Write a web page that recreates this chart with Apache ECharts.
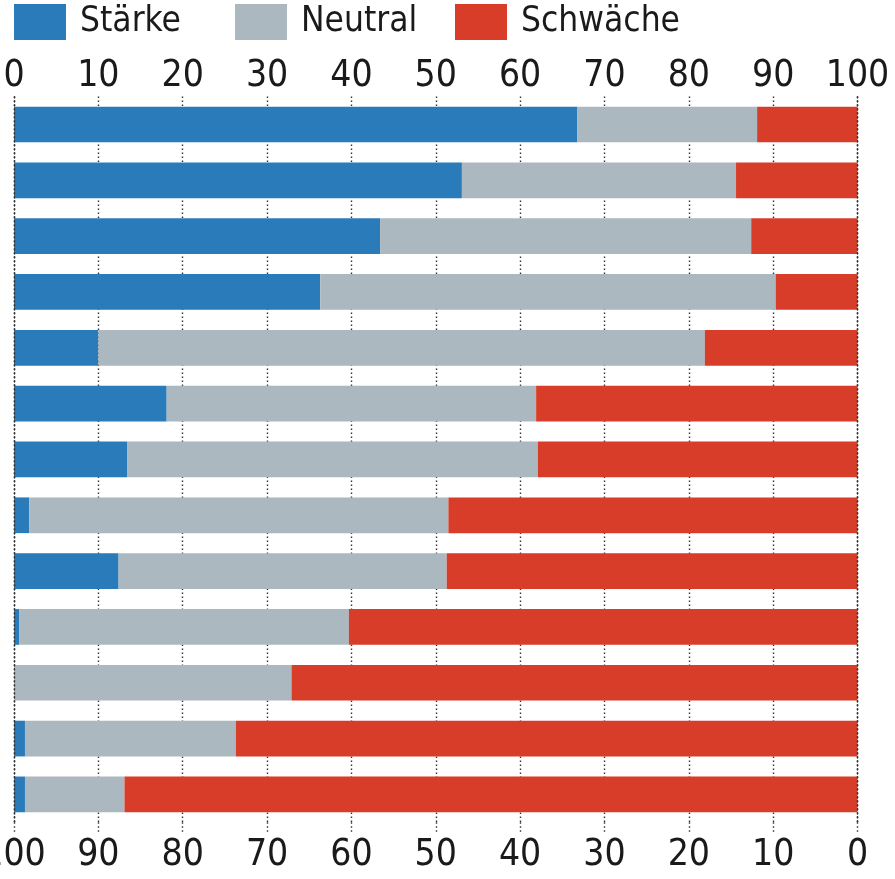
<!DOCTYPE html>
<html>
<head>
<meta charset="utf-8">
<script src="https://cdn.jsdelivr.net/npm/echarts@6/dist/echarts.min.js"></script>
<style>
  html, body { margin: 0; padding: 0; background: #ffffff; }
  #chart { width: 895px; height: 879px; }
</style>
</head>
<body>
<div id="chart"></div>
<script>
// Row identifiers (top to bottom); no labels are drawn for them
const categories = ['1', '2', '3', '4', '5', '6', '7', '8', '9', '10', '11', '12', '13'];

// Share per row in percent
const staerke = [66.8, 53.1, 43.4, 36.3, 10.0, 18.1, 13.4, 1.8, 12.4, 0.6, 0.0, 1.3, 1.3];
const neutral = [21.3, 32.5, 44.0, 54.0, 71.9, 43.8, 48.7, 49.7, 38.9, 39.1, 32.9, 25.0, 11.8];
const schwaeche = [11.9, 14.4, 12.6, 9.7, 18.1, 38.1, 37.9, 48.5, 48.7, 60.3, 67.1, 73.7, 86.9];

const seriesNames = ['Stärke', 'Neutral', 'Schwäche'];
const seriesColors = ['#2a7bb9', '#abb8c0', '#d73d29'];

const FONT = '"DejaVu Sans Condensed", "Liberation Sans Narrow", sans-serif';
const dotted = { color: '#333333', width: 1.4, type: [1.4, 2.6] };

const chart = echarts.init(document.getElementById('chart'), null, { renderer: 'canvas' });

const legendAt = (name, left) => ({
  data: [name],
  left: left,
  top: 4,
  padding: 0,
  icon: 'rect',
  itemWidth: 52,
  itemHeight: 36,
  selectedMode: false,
  textStyle: {
    fontFamily: FONT,
    fontSize: 35,
    lineHeight: 36,
    color: '#1a1a1a',
    padding: [0, 0, 0, 9]
  }
});

const axisLabel = (margin) => ({
  fontFamily: FONT,
  fontSize: 37,
  color: '#1a1a1a',
  margin: margin
});

const option = {
  animation: false,
  backgroundColor: '#ffffff',
  legend: [
    legendAt(seriesNames[0], 14),
    legendAt(seriesNames[1], 235),
    legendAt(seriesNames[2], 455)
  ],
  grid: {
    left: 14, right: 37.5, top: 96.6, bottom: 56.7,
    containLabel: false, outerBoundsMode: 'none'
  },
  xAxis: [
    {
      type: 'value', position: 'top', min: 0, max: 100, interval: 10,
      axisLine: { show: false },
      axisTick: { show: false },
      axisLabel: axisLabel(2),
      splitLine: { show: true, lineStyle: dotted }
    },
    {
      type: 'value', position: 'bottom', min: 0, max: 100, interval: 10, inverse: true,
      axisLine: { show: false },
      axisTick: { show: true, inside: false, length: 11, lineStyle: dotted },
      axisLabel: axisLabel(15),
      splitLine: { show: false }
    }
  ],
  yAxis: [
    {
      type: 'category', data: categories, inverse: true, position: 'left', z: 10,
      axisLine: { show: true, lineStyle: dotted },
      axisTick: { show: false }, axisLabel: { show: false }, splitLine: { show: false }
    },
    {
      type: 'category', data: categories, inverse: true, position: 'right', z: 10,
      axisLine: { show: true, lineStyle: dotted },
      axisTick: { show: false }, axisLabel: { show: false }, splitLine: { show: false }
    }
  ],
  series: [staerke, neutral, schwaeche].map((values, i) => ({
    name: seriesNames[i],
    type: 'bar',
    stack: 'total',
    xAxisIndex: 0,
    yAxisIndex: 0,
    barWidth: '64%',
    itemStyle: { color: seriesColors[i] },
    data: values
  }))
};

chart.setOption(option);
</script>
</body>
</html>
